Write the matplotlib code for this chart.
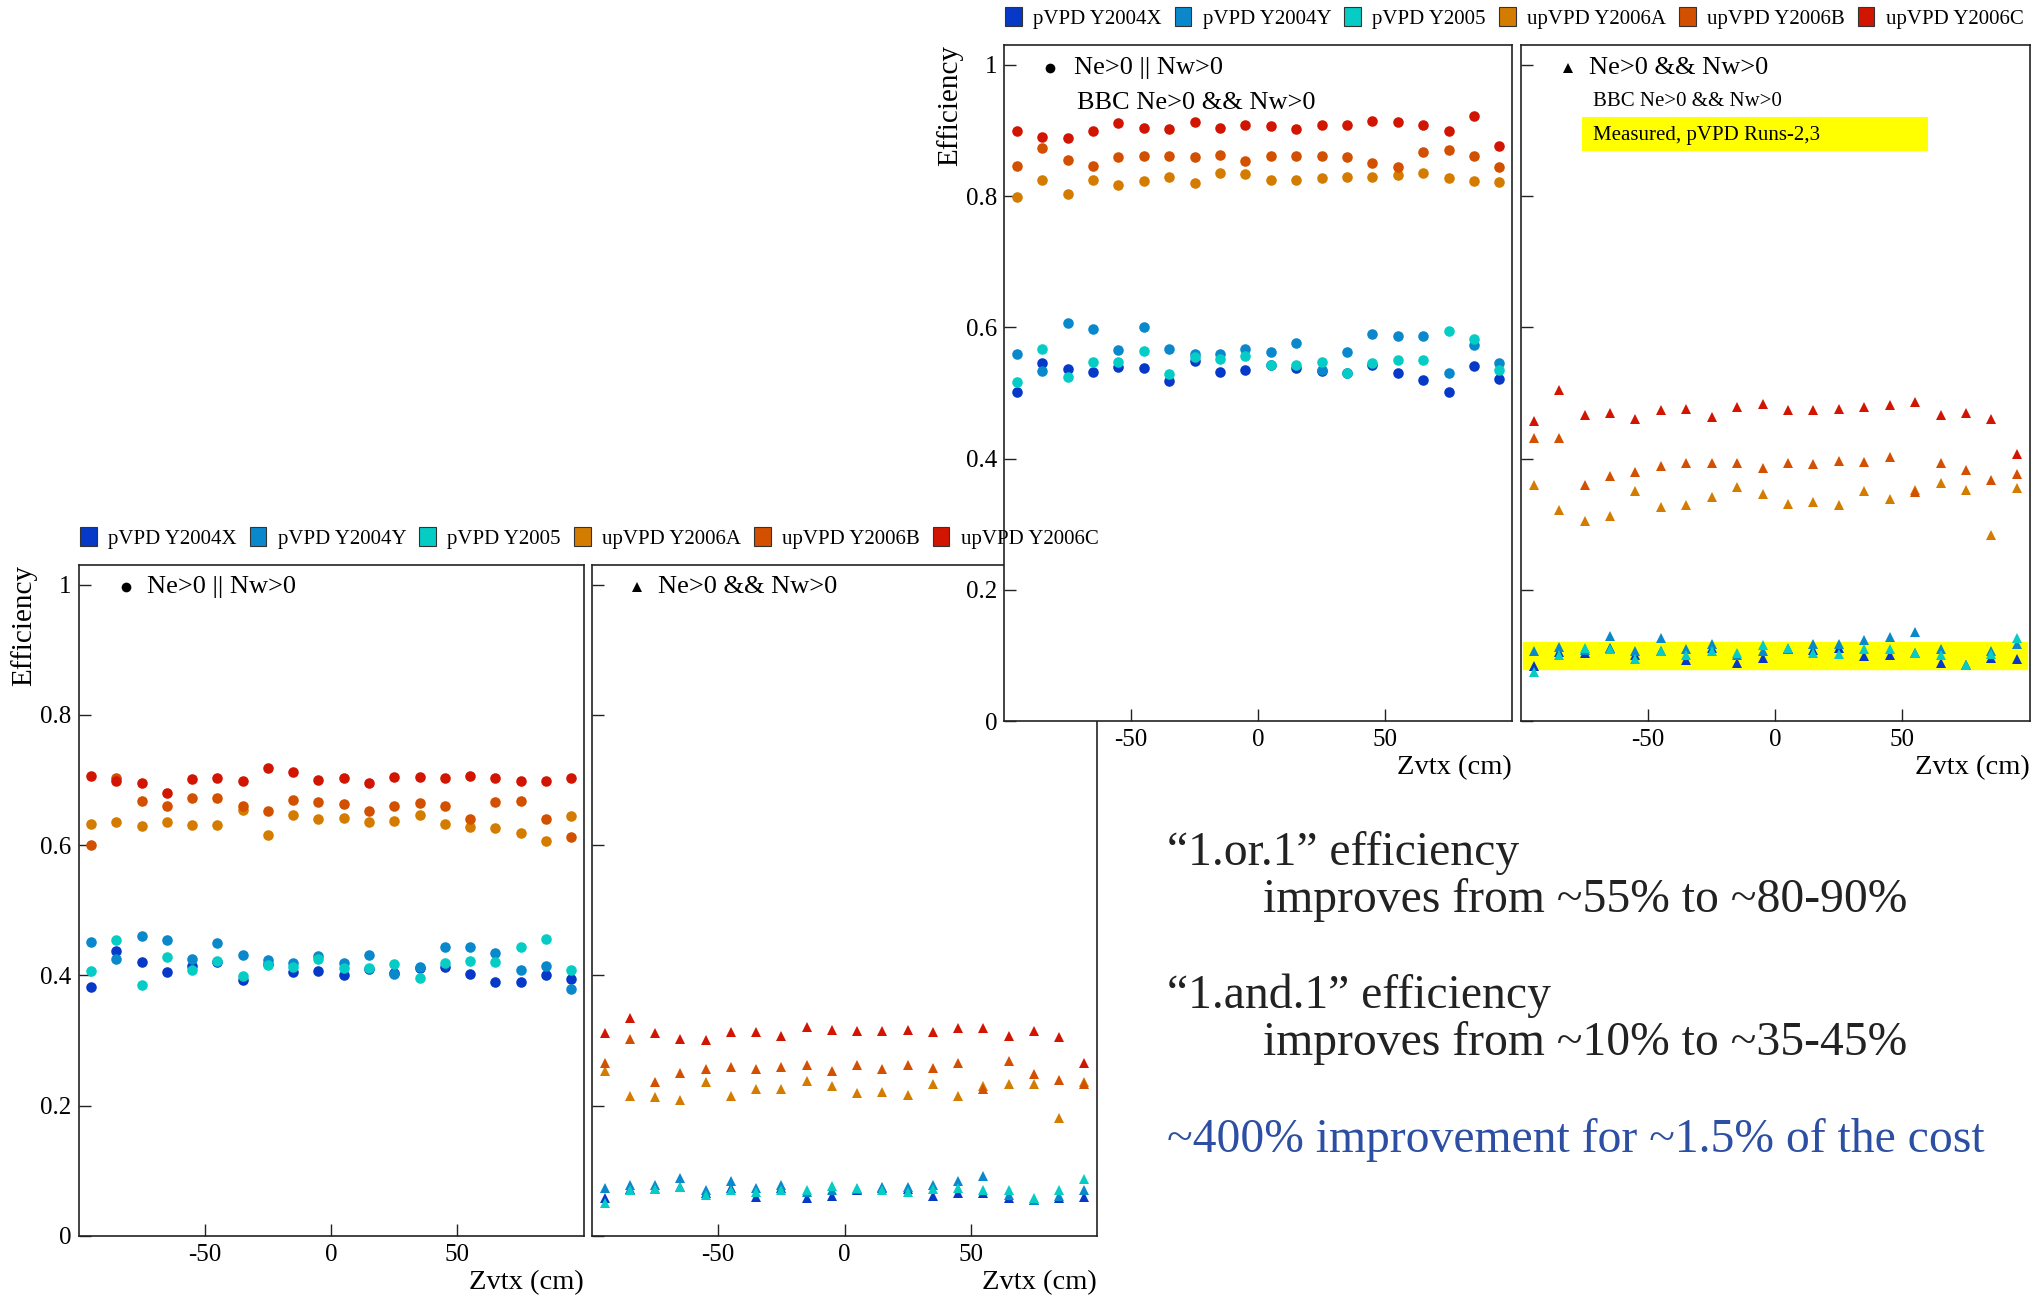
import matplotlib
matplotlib.use("Agg")
import matplotlib.pyplot as plt
from matplotlib.patches import Patch, Rectangle

plt.rcParams['font.family'] = ['Liberation Serif', 'DejaVu Serif']
plt.rcParams['axes.unicode_minus'] = False

# ---------------- data ----------------
zvtx = [-95, -85, -75, -65, -55, -45, -35, -25, -15, -5, 5, 15, 25, 35, 45, 55, 65, 75, 85, 95]
series_names = ["pVPD Y2004X", "pVPD Y2004Y", "pVPD Y2005", "upVPD Y2006A", "upVPD Y2006B", "upVPD Y2006C"]
series_colors = ["#0639c8", "#0a88cc", "#05ccc4", "#d47c00", "#d25000", "#d21500"]

# bottom-left: Ne>0 || Nw>0 (current)
bl_x = [0.382, 0.437, 0.420, 0.405, 0.414, 0.420, 0.393, 0.417, 0.405, 0.407, 0.400, 0.410, 0.404, 0.412, 0.413, 0.402, 0.390, 0.390, 0.400, 0.394]
bl_y = [0.452, 0.425, 0.460, 0.455, 0.426, 0.450, 0.431, 0.424, 0.419, 0.430, 0.419, 0.432, 0.403, 0.413, 0.443, 0.443, 0.435, 0.408, 0.414, 0.379]
bl_05 = [0.407, 0.454, 0.385, 0.428, 0.408, 0.423, 0.399, 0.416, 0.413, 0.426, 0.411, 0.412, 0.417, 0.396, 0.419, 0.422, 0.421, 0.443, 0.456, 0.408]
bl_a = [0.632, 0.636, 0.630, 0.635, 0.631, 0.631, 0.654, 0.615, 0.646, 0.641, 0.642, 0.635, 0.637, 0.646, 0.632, 0.628, 0.626, 0.619, 0.606, 0.645]
bl_b = [0.600, 0.703, 0.668, 0.661, 0.672, 0.672, 0.661, 0.653, 0.669, 0.666, 0.663, 0.653, 0.661, 0.665, 0.661, 0.640, 0.666, 0.668, 0.640, 0.613]
bl_c = [0.706, 0.699, 0.696, 0.680, 0.701, 0.704, 0.698, 0.718, 0.712, 0.700, 0.704, 0.696, 0.705, 0.705, 0.704, 0.707, 0.703, 0.699, 0.698, 0.703]

# bottom-right: Ne>0 && Nw>0 (current)
br_x = [0.058, 0.072, 0.072, 0.075, 0.066, 0.073, 0.060, 0.073, 0.058, 0.062, 0.071, 0.073, 0.072, 0.061, 0.066, 0.066, 0.058, 0.056, 0.058, 0.060]
br_y = [0.074, 0.078, 0.079, 0.089, 0.070, 0.084, 0.073, 0.078, 0.068, 0.070, 0.072, 0.076, 0.076, 0.079, 0.084, 0.092, 0.063, 0.056, 0.061, 0.070]
br_05 = [0.050, 0.071, 0.072, 0.075, 0.063, 0.070, 0.068, 0.071, 0.070, 0.077, 0.073, 0.071, 0.067, 0.072, 0.073, 0.071, 0.071, 0.058, 0.071, 0.087]
br_a = [0.254, 0.215, 0.214, 0.209, 0.236, 0.215, 0.226, 0.225, 0.238, 0.230, 0.220, 0.221, 0.216, 0.234, 0.215, 0.231, 0.234, 0.233, 0.181, 0.237]
br_b = [0.266, 0.303, 0.236, 0.251, 0.257, 0.260, 0.257, 0.259, 0.262, 0.254, 0.263, 0.257, 0.262, 0.258, 0.266, 0.225, 0.268, 0.248, 0.239, 0.233]
br_c = [0.311, 0.335, 0.311, 0.302, 0.301, 0.313, 0.314, 0.307, 0.321, 0.316, 0.315, 0.315, 0.316, 0.313, 0.320, 0.320, 0.307, 0.315, 0.305, 0.266]

# top-left: Ne>0 || Nw>0 (BBC Ne>0 && Nw>0)
tl_x = [0.502, 0.546, 0.536, 0.532, 0.539, 0.538, 0.518, 0.549, 0.532, 0.535, 0.542, 0.538, 0.534, 0.531, 0.542, 0.530, 0.520, 0.502, 0.541, 0.522]
tl_y = [0.560, 0.533, 0.607, 0.598, 0.566, 0.601, 0.567, 0.559, 0.559, 0.567, 0.563, 0.576, 0.535, 0.563, 0.590, 0.587, 0.587, 0.530, 0.573, 0.545]
tl_05 = [0.517, 0.567, 0.525, 0.548, 0.547, 0.564, 0.529, 0.555, 0.552, 0.556, 0.542, 0.542, 0.547, 0.531, 0.545, 0.551, 0.550, 0.594, 0.583, 0.535]
tl_a = [0.799, 0.825, 0.803, 0.824, 0.817, 0.823, 0.830, 0.820, 0.836, 0.834, 0.825, 0.824, 0.828, 0.829, 0.829, 0.833, 0.836, 0.827, 0.823, 0.822]
tl_b = [0.846, 0.874, 0.855, 0.846, 0.859, 0.861, 0.862, 0.859, 0.863, 0.854, 0.861, 0.861, 0.861, 0.860, 0.851, 0.845, 0.867, 0.871, 0.861, 0.844]
tl_c = [0.899, 0.890, 0.889, 0.900, 0.912, 0.904, 0.903, 0.913, 0.904, 0.908, 0.907, 0.903, 0.909, 0.909, 0.914, 0.913, 0.908, 0.899, 0.922, 0.876]

# top-right: Ne>0 && Nw>0 (BBC Ne>0 && Nw>0)
tr_x = [0.084, 0.105, 0.103, 0.111, 0.101, 0.106, 0.093, 0.112, 0.089, 0.096, 0.109, 0.108, 0.111, 0.099, 0.101, 0.103, 0.089, 0.085, 0.096, 0.094]
tr_y = [0.106, 0.113, 0.108, 0.130, 0.106, 0.126, 0.109, 0.118, 0.100, 0.107, 0.110, 0.117, 0.118, 0.123, 0.128, 0.136, 0.110, 0.085, 0.106, 0.118]
tr_05 = [0.075, 0.101, 0.111, 0.109, 0.094, 0.106, 0.101, 0.107, 0.104, 0.116, 0.111, 0.104, 0.102, 0.109, 0.109, 0.104, 0.101, 0.086, 0.102, 0.126]
tr_a = [0.360, 0.321, 0.305, 0.313, 0.351, 0.326, 0.329, 0.342, 0.357, 0.346, 0.331, 0.334, 0.329, 0.350, 0.338, 0.352, 0.363, 0.352, 0.284, 0.355]
tr_b = [0.431, 0.432, 0.359, 0.374, 0.379, 0.388, 0.393, 0.393, 0.393, 0.386, 0.393, 0.392, 0.397, 0.395, 0.403, 0.349, 0.394, 0.383, 0.368, 0.377]
tr_c = [0.458, 0.504, 0.467, 0.470, 0.461, 0.474, 0.475, 0.463, 0.479, 0.483, 0.474, 0.474, 0.476, 0.478, 0.481, 0.486, 0.467, 0.469, 0.461, 0.407]

measured_band = [0.079, 0.120]

y_ticks = [0, 0.2, 0.4, 0.6, 0.8, 1.0]
y_tick_labels = ["0", "0.2", "0.4", "0.6", "0.8", "1"]
x_ticks = [-50, 0, 50]
x_tick_labels = ["-50", "0", "50"]

# ---------------- figure ----------------
W, H = 2043, 1296
fig = plt.figure(figsize=(W / 100, H / 100), dpi=100)

def make_axes(l, b, w, h, show_ylabels):
    ax = fig.add_axes([l / W, b / H, w / W, h / H])
    ax.set_facecolor("white")
    ax.set_xlim(-100, 100)
    ax.set_ylim(0, 1.03)
    ax.set_xticks(x_ticks)
    ax.set_xticklabels(x_tick_labels)
    ax.set_yticks(y_ticks)
    if show_ylabels:
        ax.set_yticklabels(y_tick_labels)
    else:
        ax.set_yticklabels([])
    ax.tick_params(axis="both", direction="in", length=8.5, width=1.0, labelsize=18, color="#222222")
    ax.tick_params(axis="y", pad=5)
    ax.tick_params(axis="x", pad=6)
    for s in ax.spines.values():
        s.set_linewidth(1.2)
        s.set_color("#222222")
    if show_ylabels:
        ax.set_ylabel("Efficiency", fontsize=21, loc="top", labelpad=2)
    ax.set_xlabel("Zvtx (cm)", fontsize=20.5, loc="right", labelpad=2.5)
    return ax

ax_bl = make_axes(78.5, 60, 505.2, 670.8, True)
ax_br = make_axes(592, 60, 505, 670.8, False)
ax_tl = make_axes(1004, 575, 508, 675.7, True)
ax_tr = make_axes(1521, 575, 508.5, 675.7, False)
ax_tl.set_zorder(3)
ax_tr.set_zorder(3)

panels = [
    (ax_bl, "o", [bl_x, bl_y, bl_05, bl_a, bl_b, bl_c]),
    (ax_br, "^", [br_x, br_y, br_05, br_a, br_b, br_c]),
    (ax_tl, "o", [tl_x, tl_y, tl_05, tl_a, tl_b, tl_c]),
    (ax_tr, "^", [tr_x, tr_y, tr_05, tr_a, tr_b, tr_c]),
]
for ax, mk, data in panels:
    ms = 7.6 if mk == "o" else 7.2
    for vals, col in zip(data, series_colors):
        ax.plot(zvtx, vals, linestyle="none", marker=mk, ms=ms, color=col, mew=0, zorder=3)

# yellow band in top-right panel
ax_tr.axhspan(measured_band[0], measured_band[1], xmin=0.003, xmax=0.995, color="#ffff00", zorder=1)

# in-panel labels
def panel_label(ax, mk, mx, tx, y, text):
    ax.plot([mx], [y], marker=mk, ms=7 if mk == "o" else 6.5, color="black", mew=0,
            transform=ax.transAxes, clip_on=False, linestyle="none")
    ax.text(tx, y, text, transform=ax.transAxes, fontsize=19, va="center", ha="left")

panel_label(ax_bl, "o", 0.095, 0.136, 0.967, "Ne>0 || Nw>0")
panel_label(ax_br, "^", 0.089, 0.131, 0.967, "Ne>0 && Nw>0")
panel_label(ax_tl, "o", 0.091, 0.138, 0.966, "Ne>0 || Nw>0")
panel_label(ax_tr, "^", 0.0915, 0.134, 0.966, "Ne>0 && Nw>0")
ax_tl.text(0.144, 0.915, "BBC Ne>0 && Nw>0", transform=ax_tl.transAxes, fontsize=19, va="center")
ax_tr.text(0.141, 0.917, "BBC Ne>0 && Nw>0", transform=ax_tr.transAxes, fontsize=15, va="center")
ax_tr.add_patch(Rectangle((0.120, 0.844), 0.680, 0.050, transform=ax_tr.transAxes,
                          facecolor="#ffff00", edgecolor="none", zorder=2))
ax_tr.text(0.141, 0.867, "Measured, pVPD Runs-2,3", transform=ax_tr.transAxes,
           fontsize=15, va="center", zorder=4)

# legends
handles = [Patch(facecolor=c, edgecolor="#333333", linewidth=0.8, label=n)
           for n, c in zip(series_names, series_colors)]
leg_kw = dict(ncol=6, frameon=False, fontsize=15, handlelength=0.8, handleheight=1.0,
              handletextpad=0.55, columnspacing=0.62, borderpad=0, borderaxespad=0,
              loc="center left")
fig.legend(handles=handles, bbox_to_anchor=(80 / W, 1 - 538 / H), **leg_kw)
fig.legend(handles=handles, bbox_to_anchor=(1005 / W, 1 - 18 / H), **leg_kw)

# summary text
txt_col = "#222222"
fs_big = 34.3
fig.text(1167 / W, 1 - 865 / H, "\u201c1.or.1\u201d efficiency", fontsize=fs_big, color=txt_col, va="baseline")
fig.text(1263 / W, 1 - 912 / H, "improves from ~55% to ~80-90%", fontsize=fs_big, color=txt_col, va="baseline")
fig.text(1167 / W, 1 - 1008 / H, "\u201c1.and.1\u201d efficiency", fontsize=fs_big, color=txt_col, va="baseline")
fig.text(1263 / W, 1 - 1055 / H, "improves from ~10% to ~35-45%", fontsize=fs_big, color=txt_col, va="baseline")
fig.text(1167 / W, 1 - 1152 / H, "~400% improvement for ~1.5% of the cost", fontsize=fs_big,
         color="#2c4fa3", va="baseline")

fig.savefig("out.png", dpi=100)
